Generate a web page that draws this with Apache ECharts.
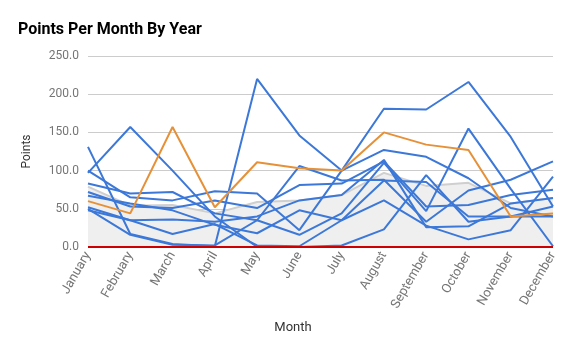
<!DOCTYPE html>
<html><head><meta charset="utf-8">
<script src="https://cdn.jsdelivr.net/npm/echarts@6/dist/echarts.min.js"></script>
<style>html,body{margin:0;padding:0;background:#fff}#c{width:569px;height:358px}</style>
</head><body><div id="c"></div>
<script>
const months = ["January","February","March","April","May","June","July","August","September","October","November","December"];
const yTicks = [0, 50, 100, 150, 200, 250];
const line1 = [131, 17, 4, 1, 220, 146, 100, 127, 118, 90, 51, 40];
const line2 = [97, 157, 100, 40, 0, 0, 2, 23, 94, 33, 40, 53];
const line3 = [100, 65, 61, 73, 70, 22, 100, 181, 180, 216, 144, 53];
const line4 = [83, 70, 72, 44, 35, 106, 87, 88, 33, 74, 88, 112];
const line5 = [72, 53, 51, 61, 51, 81, 83, 112, 53, 55, 68, 75];
const line6 = [67, 57, 48, 29, 18, 48, 35, 61, 28, 10, 22, 92];
const line7 = [52, 35, 36, 33, 40, 61, 68, 114, 26, 27, 57, 64];
const line8 = [50, 16, 3, 2, 35, 16, 44, 110, 47, 155, 76, 1];
const line9 = [48, 35, 17, 30, 2, 1, 35, 87, 85, 40, 40, 40];
const highlight = [60, 44, 157, 52, 111, 103, 100, 150, 134, 127, 40, 44];
const average = [79, 54, 55, 44, 59, 61, 68, 97, 80, 84, 57, 64];
const zeroLine = [0, 0, 0, 0, 0, 0, 0, 0, 0, 0, 0, 0];

const blues = [line1, line2, line3, line4, line5, line6, line7, line8, line9];
const series = [];
series.push({type:'line', data: average, symbol:'none', z:1,
  lineStyle:{color:'#cfcfcf', width:2}, areaStyle:{color:'#efefef', opacity:1}});
blues.forEach(d => series.push({type:'line', data:d, symbol:'none', z:3,
  lineStyle:{color:'#3c78d8', width:2}}));
series.push({type:'line', data: highlight, symbol:'none', z:4,
  lineStyle:{color:'#e69138', width:2}});
series.push({type:'line', data: zeroLine, symbol:'none', z:5,
  lineStyle:{color:'#cc0000', width:2}});

const chart = echarts.init(document.getElementById('c'), null, {renderer:'canvas'});
chart.setOption({
  animation:false,
  backgroundColor:'#ffffff',
  title:{text:'Points Per Month By Year', left:13, top:17,
    textStyle:{fontFamily:'Roboto', fontSize:16, fontWeight:'bold', color:'#000'}},
  grid:{left:88, right:16, top:56, bottom:111},
  xAxis:{type:'category', data:months, boundaryGap:false,
    axisLine:{show:false}, axisTick:{show:false},
    axisLabel:{rotate:60, color:'#757575', fontFamily:'Roboto', fontSize:13, margin:6},
    name:'Month', nameLocation:'middle', nameGap:74,
    nameTextStyle:{fontFamily:'Roboto', fontSize:13, color:'#333', padding:[0,55,0,0]}},
  yAxis:{type:'value', min:yTicks[0], max:yTicks[yTicks.length-1], interval:50,
    axisLine:{show:false}, axisTick:{show:false},
    splitLine:{lineStyle:{color:'#cccccc', width:1}},
    axisLabel:{formatter:v=>v.toFixed(1), color:'#757575', fontFamily:'Roboto', fontSize:12, margin:9},
    name:'Points', nameLocation:'middle', nameGap:55,
    nameTextStyle:{fontFamily:'Roboto', fontSize:12, color:'#333'}},
  series:series
});
</script></body></html>
